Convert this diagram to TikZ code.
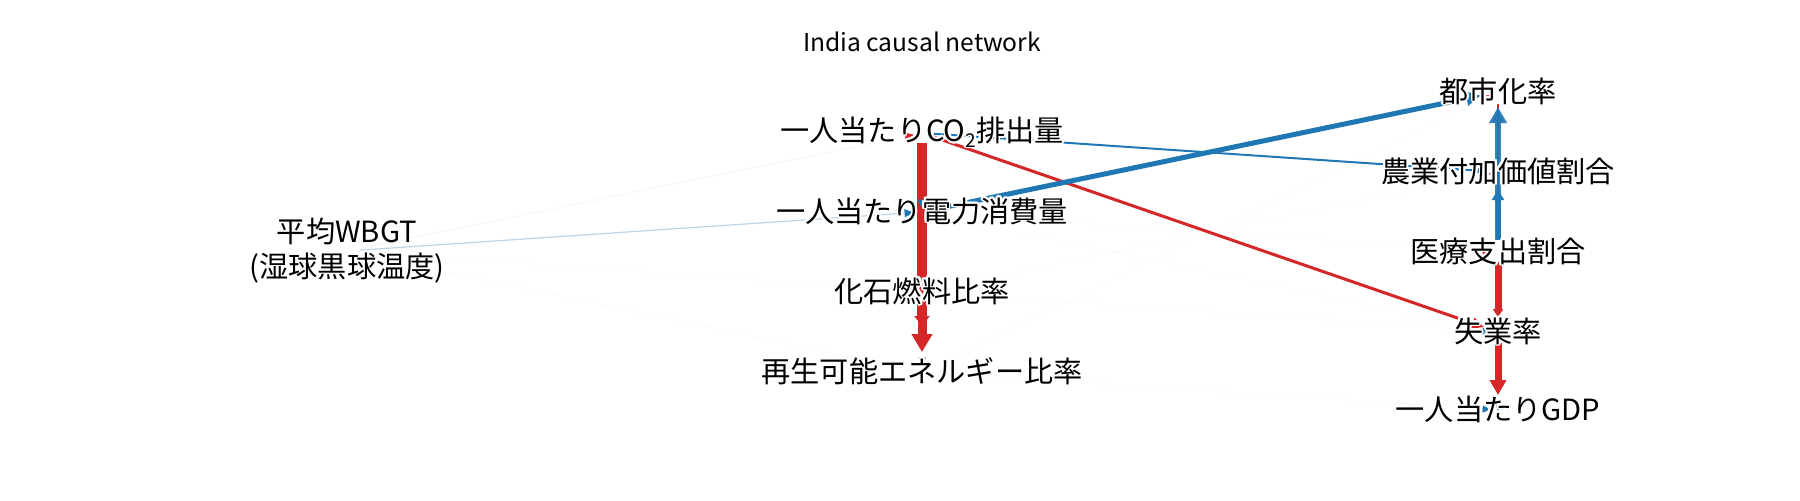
\documentclass[tikz,border=0pt]{standalone}
\usepackage{fontspec}
\setmainfont{Noto Sans CJK JP}
\usepackage{contour}
\contourlength{0.9pt}
\usetikzlibrary{arrows.meta,calc}
\definecolor{tred}{HTML}{D62728}
\definecolor{tblue}{HTML}{1F77B4}
\newcommand\hstub[6]{\draw[#1, line width=0.3pt, -{Triangle[length=#5,width=#6]}] ($(#3)!#4!(#2)$) -- ($(#3)!#4-#5+0.2pt!(#2)$);}
\newcommand\subtwo{\raisebox{-0.35ex}{\fontsize{9.5}{9.5}\selectfont 2}}
\begin{document}
\begin{tikzpicture}[x=0.5pt,y=-0.5pt,
  lbl/.style={font=\fontsize{14.6}{17.5}\selectfont, inner sep=0pt, align=center},
  ttl/.style={font=\fontsize{12.3}{14}\selectfont, inner sep=0pt},
  faint/.style={line width=0.5pt, draw opacity=#1},
  faint/.default=0.03]
\fill[white] (0,0) rectangle (1800,500);
\useasboundingbox (0,0) rectangle (1800,500);
% node positions
\coordinate (pco2) at (922,133);
\coordinate (pden) at (922,212);
\coordinate (pfos) at (922,292);
\coordinate (pren) at (922,372);
\coordinate (purb) at (1498,92);
\coordinate (pagr) at (1498,172);
\coordinate (pmed) at (1498,252);
\coordinate (pune) at (1498,332);
\coordinate (pgdp) at (1498,410);
\coordinate (pwb) at (347,251);
% faint edges
\draw[tred, faint=0.05, shorten <=6.5pt, shorten >=9pt] (pwb) -- (pco2);
\hstub{tred}{pwb}{pco2}{8.5pt}{4.5pt}{4pt}
\draw[tblue, faint=0.3, line width=0.6pt, shorten <=6.5pt, shorten >=9pt] (pwb) -- (pden);
\hstub{tblue}{pwb}{pden}{8.5pt}{4.5pt}{4pt}
\draw[tred, faint=0.025, shorten <=6.5pt, shorten >=9pt] (pwb) -- (pren);
\draw[gray, faint=0.025, shorten <=6pt, shorten >=8pt] (pden) -- (pune);
\draw[tred, faint=0.02, shorten <=6pt, shorten >=8pt] (pren) -- (purb);
\hstub{tred}{pren}{purb}{7.5pt}{4pt}{3.5pt}
\draw[tred, faint=0.02, shorten <=6pt, shorten >=8pt] (pfos) -- (pagr);
\hstub{tred}{pfos}{pagr}{7.5pt}{4pt}{3.5pt}
\draw[tred, faint=0.02, shorten <=6pt, shorten >=8pt] (pden) -- (pmed);
\hstub{tred}{pden}{pmed}{7.5pt}{4pt}{3.5pt}
\draw[tblue, faint=0.02, shorten <=6.5pt, shorten >=8pt] (pwb) -- (pune);
\hstub{tblue}{pwb}{pune}{7.5pt}{4pt}{3.5pt}
\draw[tblue, faint=0.02, shorten <=6pt, shorten >=8pt] (pren) -- (pgdp);
\hstub{tblue}{pren}{pgdp}{7.5pt}{4pt}{3.5pt}
% middle column
\draw[tred, line width=5pt, shorten <=5pt, shorten >=23pt, -{Triangle[length=5pt,width=7.5pt]}] (pco2) -- (pren);
\draw[tred, line width=4.5pt, shorten <=6pt, shorten >=10pt, -{Triangle[length=9pt,width=10pt]}] (pfos) -- (pren);
\hstub{tblue}{pden}{pren}{7pt}{3pt}{4pt}
\hstub{tblue}{pco2}{pden}{6pt}{4pt}{4.5pt}
% right column
\draw[tred, line width=0.7pt, shorten <=6pt, shorten >=6pt] (purb) -- (pmed);
\draw[tblue, line width=3pt, draw opacity=0.9, fill opacity=0.9, shorten <=6pt, shorten >=7.5pt, -{Triangle[length=8pt,width=8.5pt]}] (pmed) -- (purb);
\draw[tblue, line width=2.5pt, shorten <=6pt, shorten >=9pt, -{Triangle[length=5pt,width=6pt]}] (pmed) -- (pagr);
\draw[tred, line width=3.5pt, shorten <=5pt, shorten >=7.5pt, -{Triangle[length=4pt,width=5pt]}] (pmed) -- (pune);
\draw[tred, line width=3.5pt, shorten <=5.5pt, shorten >=7.5pt, -{Triangle[length=7.5pt,width=8pt]}] (pune) -- (pgdp);
\hstub{tblue}{pmed}{pgdp}{3pt}{3.5pt}{3.5pt}
% cross edges
\draw[tred, line width=1.5pt, shorten <=6pt, shorten >=7.5pt, -{Triangle[length=6pt,width=5.5pt]}] (pco2) -- (pune);
\draw[tblue, line width=2.5pt, shorten <=6pt, shorten >=9pt, -{Triangle[length=7pt,width=7pt]}] (pden) -- (purb);
\draw[tblue, line width=1pt, shorten <=6pt, shorten >=7.5pt, -{Triangle[length=5pt,width=4.5pt]}] (pco2) -- (pagr);
% labels
\node[ttl] (title) at (922,42) {India causal network};
\node[lbl] (co2) at (pco2) {\contour{white}{一人当たりCO\subtwo 排出量}};
\node[lbl] (den) at (pden) {\contour{white}{一人当たり電力消費量}};
\node[lbl] (fos) at (pfos) {\contour{white}{化石燃料比率}};
\node[lbl] (ren) at (pren) {\contour{white}{再生可能エネルギー比率}};
\node[lbl] (urb) at (purb) {\contour{white}{都市化率}};
\node[lbl] (agr) at (pagr) {\contour{white}{農業付加価値割合}};
\node[lbl] (med) at (pmed) {\contour{white}{医療支出割合}};
\node[lbl] (une) at (pune) {\contour{white}{失業率}};
\node[lbl] (gdp) at (pgdp) {\contour{white}{一人当たりGDP}};
\node[lbl] (wb) at (pwb) {\contour{white}{平均WBGT}\\\contour{white}{(湿球黒球温度)}};
\end{tikzpicture}
\end{document}
